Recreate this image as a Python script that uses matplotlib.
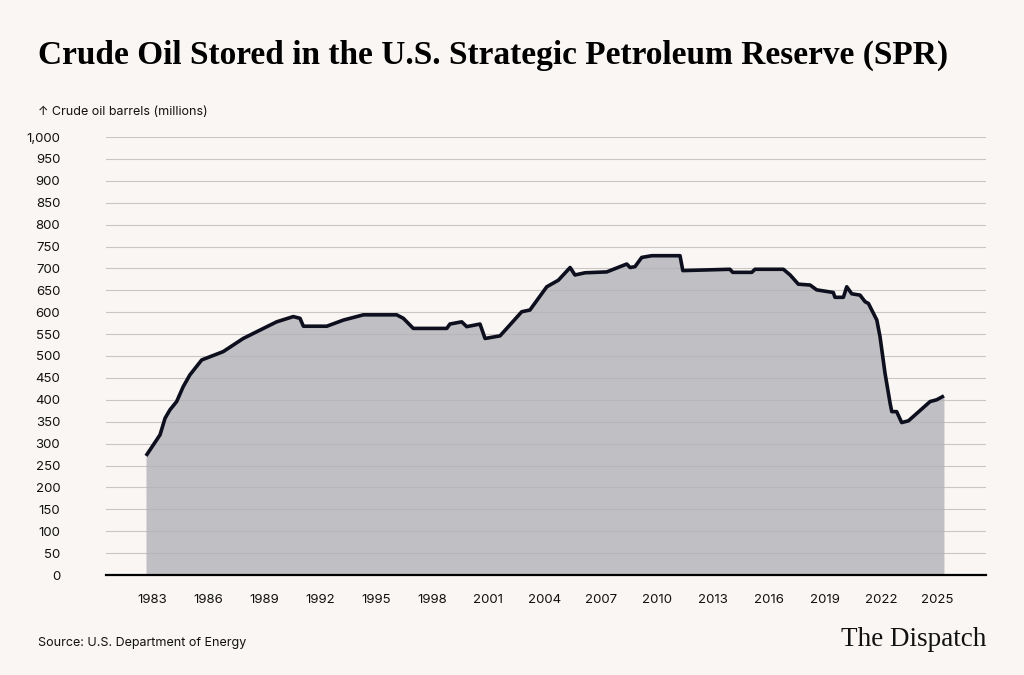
import matplotlib
matplotlib.use("Agg")
import matplotlib.pyplot as plt

# SPR inventory, millions of barrels
years = [1982.68, 1983.43, 1983.70, 1983.96, 1984.32, 1984.67, 1985.03, 1985.66,
         1986.81, 1987.88, 1988.96, 1989.67, 1990.56, 1990.92, 1991.10, 1992.35,
         1993.24, 1994.31, 1996.09, 1996.45, 1996.98, 1998.77, 1998.94, 1999.57,
         1999.84, 2000.55, 2000.82, 2001.62, 2002.15, 2002.78, 2003.22, 2004.12,
         2004.74, 2005.37, 2005.63, 2006.17, 2007.33, 2008.40, 2008.58, 2008.84,
         2009.20, 2009.74, 2011.25, 2011.40, 2013.92, 2014.07, 2015.09, 2015.26,
         2016.78, 2017.14, 2017.58, 2018.21, 2018.56, 2019.45, 2019.54, 2019.99,
         2020.17, 2020.44, 2020.88, 2021.15, 2021.33, 2021.78, 2021.95, 2022.22,
         2022.49, 2022.58, 2022.84, 2023.11, 2023.47, 2024.63, 2024.98, 2025.37]
barrels = [272, 320, 358, 377, 396, 430, 457, 491,
           510, 540, 563, 578, 590, 586, 568, 568,
           582, 594, 594, 586, 563, 563, 573, 578,
           567, 573, 540, 546, 571, 601, 605, 658,
           673, 702, 685, 690, 692, 710, 702, 704,
           725, 729, 729, 695, 698, 691, 691, 698,
           698, 685, 664, 662, 651, 645, 634, 634,
           658, 642, 639, 624, 620, 582, 544, 460,
           392, 373, 373, 348, 352, 396, 400, 409]

xticks = [1983, 1986, 1989, 1992, 1995, 1998, 2001, 2004, 2007, 2010,
          2013, 2016, 2019, 2022, 2025]
yticks = list(range(0, 1001, 50))

bg = "#f9f6f3"
sans = ["Inter", "DejaVu Sans"]

fig = plt.figure(figsize=(10.24, 6.75), dpi=100, facecolor=bg)
ax = fig.add_axes([106 / 1024, 1 - 575 / 675, 880 / 1024, 438 / 675])
ax.set_facecolor(bg)

ax.fill_between(years, barrels, 0, color="#c0bfc3", lw=0, zorder=1)
ax.plot(years, barrels, color="#0d0f1e", lw=2.6, solid_joinstyle="round",
        solid_capstyle="butt", zorder=3)

ax.set_xlim(1980.54, 2027.62)
ax.set_ylim(0, 1000)
ax.set_xticks(xticks)
ax.set_xticklabels([str(y) for y in xticks], fontfamily=sans, fontsize=9.5, color="#111111")
ax.set_yticks(yticks)
ax.set_yticklabels([f"{v:,}" for v in yticks], fontfamily=sans, fontsize=9.5, color="#111111")
ax.tick_params(axis="both", length=0)
ax.tick_params(axis="y", pad=33)
ax.tick_params(axis="x", pad=14)

ax.grid(axis="y", color="#b5b2b1", lw=0.8, alpha=0.7, zorder=2)
ax.set_axisbelow(False)
for s in ["top", "right", "left"]:
    ax.spines[s].set_visible(False)
ax.spines["bottom"].set_color("#000000")
ax.spines["bottom"].set_linewidth(1.6)
ax.spines["bottom"].set_zorder(4)

fig.text(38 / 1024, 1 - 55 / 675, "Crude Oil Stored in the U.S. Strategic Petroleum Reserve (SPR)",
         fontfamily="Liberation Serif", fontweight="bold", fontsize=24,
         ha="left", va="center", color="#000000")
fig.text(38 / 1024, 1 - 112 / 675, "\u2191 Crude oil barrels (millions)",
         fontfamily=sans, fontsize=9, ha="left", va="center", color="#111111")
fig.text(38 / 1024, 1 - 643 / 675, "Source: U.S. Department of Energy",
         fontfamily=sans, fontsize=9, ha="left", va="center", color="#111111")
fig.text(986 / 1024, 1 - 640 / 675, "The Dispatch",
         fontfamily="Liberation Serif", fontsize=19.5, ha="right", va="center", color="#111111")

fig.savefig("out.png", dpi=100, facecolor=bg)
